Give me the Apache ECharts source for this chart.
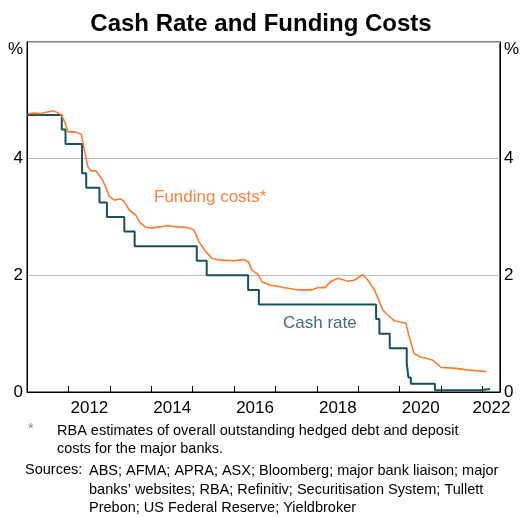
<!DOCTYPE html>
<html>
<head>
<meta charset="utf-8">
<script src="https://cdn.jsdelivr.net/npm/echarts@6/dist/echarts.min.js"></script>
<style>
  html, body { margin: 0; padding: 0; background: #fff; }
  #chart { width: 522px; height: 517px; }
</style>
</head>
<body>
<div id="chart"></div>
<script>
// dates are decimal years
const cashDates = [2011.0, 2011.84, 2011.93, 2012.33, 2012.43, 2012.75, 2012.93, 2013.35, 2013.6,
  2015.1, 2015.34, 2016.34, 2016.6, 2019.43, 2019.51, 2019.76, 2020.17, 2020.21, 2020.27,
  2020.85, 2021.95, 2022.18];
const cashValues = [4.75, 4.5, 4.25, 3.75, 3.5, 3.25, 3.0, 2.75, 2.5,
  2.25, 2.0, 1.75, 1.5, 1.25, 1.0, 0.75, 0.5, 0.25, 0.14,
  0.03, 0.05, 0.05];

const fundDates = [2011.02, 2011.19, 2011.31, 2011.43, 2011.65, 2011.83, 2011.91, 2011.99, 2012.15, 2012.31,
  2012.47, 2012.55, 2012.67, 2012.83, 2012.99, 2013.11, 2013.27, 2013.35, 2013.47, 2013.63,
  2013.71, 2013.85, 2013.99, 2014.2, 2014.39, 2014.63, 2014.87, 2015.03, 2015.15, 2015.31,
  2015.47, 2015.67, 2015.99, 2016.23, 2016.35, 2016.43, 2016.59, 2016.67, 2016.87, 2017.07,
  2017.19, 2017.55, 2017.87, 2018.03, 2018.19, 2018.35, 2018.51, 2018.75, 2018.91, 2019.11,
  2019.23, 2019.39, 2019.51, 2019.59, 2019.71, 2019.87, 2020.15, 2020.23, 2020.35, 2020.47,
  2020.79, 2021.0, 2021.3, 2021.62, 2021.94, 2022.09];
const fundValues = [4.77, 4.78, 4.77, 4.79, 4.82, 4.75, 4.63, 4.46, 4.46, 4.42,
  3.86, 3.79, 3.79, 3.63, 3.35, 3.29, 3.31, 3.26, 3.12, 3.03,
  2.92, 2.83, 2.81, 2.83, 2.85, 2.83, 2.82, 2.78, 2.58, 2.41,
  2.29, 2.26, 2.25, 2.27, 2.23, 2.09, 2.01, 1.89, 1.83, 1.81,
  1.79, 1.75, 1.75, 1.79, 1.79, 1.90, 1.95, 1.90, 1.92, 2.01,
  1.92, 1.75, 1.55, 1.41, 1.32, 1.22, 1.18, 0.95, 0.66, 0.61,
  0.55, 0.42, 0.41, 0.38, 0.36, 0.35];

const yearLabels = [2012, 2014, 2016, 2018, 2020, 2022];

const chart = echarts.init(document.getElementById('chart'));

const font = 'Liberation Sans, Arial, sans-serif';
const noteFont = '14.5px ' + font;
const yLabel = (v) => v === 6 ? '{p|%}' : '{n|' + v + '}';
const yRich = {
  n: {fontSize: 17, color: '#000'},
  p: {fontSize: 17, color: '#000', padding: [14, 0, 0, 0]}
};

chart.setOption({
  animation: false,
  textStyle: {fontFamily: font},
  title: {
    text: 'Cash Rate and Funding Costs',
    left: 'center',
    top: 7,
    textStyle: {fontSize: 24, fontWeight: 'bold', color: '#000', fontFamily: font}
  },
  grid: {
    left: 27,
    right: 19,
    top: 42,
    bottom: 125,
    show: true,
    borderColor: '#000',
    borderWidth: 1
  },
  xAxis: {
    type: 'value',
    min: 2011,
    max: 2022.42,
    interval: 1,
    axisLine: {lineStyle: {color: '#000', width: 1}},
    axisTick: {inside: true, length: 6, lineStyle: {color: '#000'}},
    splitLine: {show: false},
    axisLabel: {
      margin: 8,
      color: '#000',
      fontSize: 17,
      formatter: (v) => {
        if (!yearLabels.includes(v)) return '';
        return v === 2022 ? '{e|' + v + '}' : '{m|' + v + '}';
      },
      rich: {
        m: {fontSize: 17, color: '#000', padding: [0, 0, 0, 42]},
        e: {fontSize: 17, color: '#000', padding: [0, 0, 0, 18]}
      }
    }
  },
  yAxis: [
    {
      type: 'value',
      min: 0,
      max: 6,
      interval: 2,
      position: 'left',
      axisLine: {show: true, lineStyle: {color: '#000'}},
      axisTick: {show: false},
      splitLine: {lineStyle: {color: '#bdbdbd', width: 1}},
      axisLabel: {margin: 4, color: '#000', formatter: yLabel, rich: yRich}
    },
    {
      type: 'value',
      min: 0,
      max: 6,
      interval: 2,
      position: 'right',
      axisLine: {show: true, lineStyle: {color: '#000'}},
      axisTick: {show: false},
      splitLine: {show: false},
      axisLabel: {margin: 4, color: '#000', formatter: yLabel, rich: yRich}
    }
  ],
  series: [
    {
      name: 'Cash rate',
      type: 'line',
      step: 'end',
      symbol: 'none',
      data: cashDates.map((d, i) => [d, cashValues[i]]),
      lineStyle: {color: '#17505f', width: 2},
      z: 3
    },
    {
      name: 'Funding costs',
      type: 'line',
      symbol: 'none',
      data: fundDates.map((d, i) => [d, fundValues[i]]),
      lineStyle: {color: '#ff7b2c', width: 1.6},
      z: 4
    }
  ],
  graphic: [
    {type: 'text', left: 154, top: 189, style: {text: 'Funding costs*', fill: '#f7843e', font: '17px ' + font}},
    {type: 'text', left: 283, top: 315, style: {text: 'Cash rate', fill: '#3f6d7c', font: '17px ' + font}},
    {type: 'text', left: 28, top: 421, style: {text: '*', fill: '#888', font: noteFont}},
    {type: 'text', left: 57, top: 422, style: {text: 'RBA estimates of overall outstanding hedged debt and deposit\ncosts for the major banks.', fill: '#000', font: noteFont, lineHeight: 18}},
    {type: 'text', left: 25, top: 462, style: {text: 'Sources:', fill: '#000', font: noteFont}},
    {type: 'text', left: 89, top: 462, style: {text: 'ABS; AFMA; APRA; ASX; Bloomberg; major bank liaison; major\nbanks\u2019 websites; RBA; Refinitiv; Securitisation System; Tullett\nPrebon; US Federal Reserve; Yieldbroker', fill: '#000', font: noteFont, lineHeight: 18.5}}
  ]
});
</script>
</body>
</html>
